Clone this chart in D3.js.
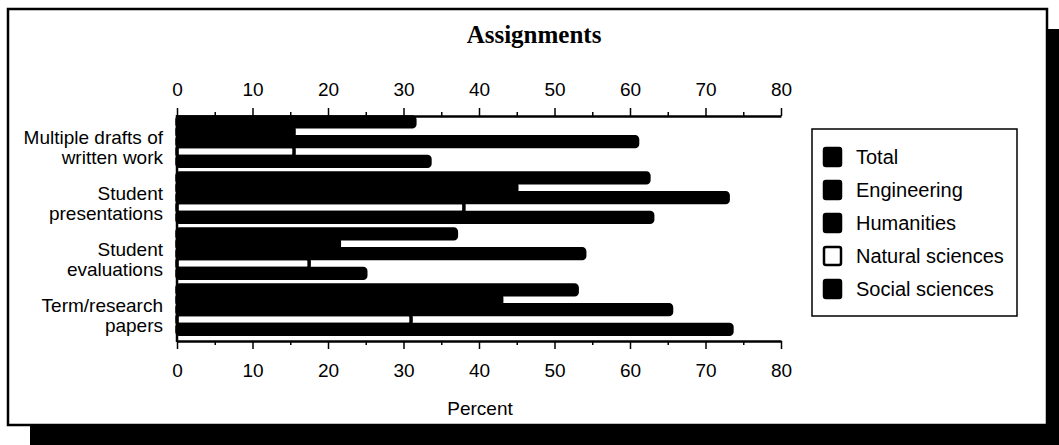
<!DOCTYPE html>
<html>
<head>
<meta charset="utf-8">
<script src="https://cdn.jsdelivr.net/npm/d3@7"></script>
<style>
  html, body { margin: 0; padding: 0; background: #fff; }
  svg { display: block; }
  text { font-family: "Liberation Sans", Arial, sans-serif; fill: #000; }
</style>
</head>
<body>
<svg id="chart" width="1059" height="445"></svg>
<script>
// ---- data ----
const categories = ["Multiple drafts of written work", "Student presentations", "Student evaluations", "Term/research papers"];
const categoryLines = [["Multiple drafts of", "written work"], ["Student", "presentations"], ["Student", "evaluations"], ["Term/research", "papers"]];
const seriesNames = ["Total", "Engineering", "Humanities", "Natural sciences", "Social sciences"];
const total = [31.5, 62.5, 37, 53];
const engineering = [15.5, 45, 21.5, 43];
const humanities = [61, 73, 54, 65.5];
const naturalSciences = [15.5, 38, 17.5, 31];
const socialSciences = [33.5, 63, 25, 73.5];
const seriesFills = ["#000", "#000", "#000", "#fff", "#000"];
const majorTicks = [0, 10, 20, 30, 40, 50, 60, 70, 80];
const minorTicks = [5, 15, 25, 35, 45, 55, 65, 75];
const titleText = "Assignments";
const xTitle = "Percent";

const seriesValues = [total, engineering, humanities, naturalSciences, socialSciences];

const svg = d3.select("#chart");

// frame + shadow
svg.append("rect").attr("x", 30).attr("y", 29).attr("width", 1060).attr("height", 430).attr("fill", "#000");
svg.append("rect").attr("x", 8).attr("y", 9).attr("width", 1039).attr("height", 416)
  .attr("fill", "#fff").attr("stroke", "#000").attr("stroke-width", 2.5);

// title
svg.append("text").attr("x", 534).attr("y", 43).attr("text-anchor", "middle")
  .style("font-family", "'Liberation Serif', 'Times New Roman', serif")
  .style("font-weight", "bold").style("font-size", "25px").text(titleText);

// scales
const x = d3.scaleLinear().domain([0, 80]).range([177, 781]);
const y = d3.scaleBand().domain(categories).range([117, 341]).paddingInner(0.12).paddingOuter(0.06).align(0);
const ySub = d3.scaleBand().domain(seriesNames).range([0, y.bandwidth()]).padding(0);

// bars: draw Natural sciences first so its neighbours' edges sit over it
const drawOrder = [3, 0, 1, 2, 4];
const barData = [];
drawOrder.forEach(si => {
  categories.forEach((c, ci) => {
    barData.push({ cat: c, series: seriesNames[si], value: seriesValues[si][ci], fill: seriesFills[si] });
  });
});

svg.append("g").selectAll("rect").data(barData).join("rect")
  .attr("x", x(0))
  .attr("y", d => y(d.cat) + ySub(d.series))
  .attr("width", d => x(d.value) - x(0))
  .attr("height", ySub.bandwidth())
  .attr("rx", 2.5)
  .attr("fill", d => d.fill)
  .attr("stroke", "#000")
  .attr("stroke-width", 3.5);

// axes
const fmt = d3.format("d");
function styleAxis(g) {
  g.select(".domain").attr("stroke-width", 2.5);
  g.selectAll(".tick line").attr("stroke-width", 1.5);
  g.selectAll("text").style("font-family", "'Liberation Sans', Arial, sans-serif").style("font-size", "19px").attr("fill", "#000");
}
const topAxis = svg.append("g").attr("transform", "translate(0,116)")
  .call(d3.axisTop(x).tickValues(majorTicks).tickFormat(fmt).tickSize(8).tickSizeOuter(0).tickPadding(12));
styleAxis(topAxis);
const topMinor = svg.append("g").attr("transform", "translate(0,116)")
  .call(d3.axisTop(x).tickValues(minorTicks).tickFormat("").tickSize(4).tickSizeOuter(0));
topMinor.select(".domain").remove();
topMinor.selectAll(".tick line").attr("stroke-width", 1.5);

const bottomAxis = svg.append("g").attr("transform", "translate(0,341)")
  .call(d3.axisBottom(x).tickValues(majorTicks).tickFormat(fmt).tickSize(8).tickSizeOuter(0).tickPadding(15));
styleAxis(bottomAxis);
const bottomMinor = svg.append("g").attr("transform", "translate(0,341)")
  .call(d3.axisBottom(x).tickValues(minorTicks).tickFormat("").tickSize(4).tickSizeOuter(0));
bottomMinor.select(".domain").remove();
bottomMinor.selectAll(".tick line").attr("stroke-width", 1.5);

// left axis line
const leftAxis = svg.append("g").attr("transform", `translate(${x(0)},0)`)
  .call(d3.axisLeft(y).tickSize(0).tickFormat(""));
leftAxis.select(".domain").attr("d", "M0,115V342").attr("stroke-width", 2.5);

// category labels
const labelG = svg.append("g");
categories.forEach((c, i) => {
  const cy = y(c) + y.bandwidth() / 2;
  const t = labelG.append("text").attr("text-anchor", "end").style("font-size", "19px");
  categoryLines[i].forEach((line, li) => {
    t.append("tspan").attr("x", 163).attr("y", cy + 2 + li * 20).text(line);
  });
});

// x title
svg.append("text").attr("x", 480).attr("y", 415).attr("text-anchor", "middle").style("font-size", "19px").text(xTitle);

// legend
const lg = svg.append("g");
lg.append("rect").attr("x", 812).attr("y", 129).attr("width", 205).attr("height", 187)
  .attr("fill", "#fff").attr("stroke", "#000").attr("stroke-width", 1.5);
const legendY = d3.scalePoint().domain(seriesNames).range([157, 289]);
seriesNames.forEach((s, i) => {
  const cy = legendY(s);
  lg.append("rect").attr("x", 824).attr("y", cy - 9).attr("width", 17).attr("height", 18).attr("rx", 2)
    .attr("fill", seriesFills[i]).attr("stroke", "#000").attr("stroke-width", 2.5);
  lg.append("text").attr("x", 856).attr("y", cy + 7).style("font-size", "20px").text(s);
});
</script>
</body>
</html>
